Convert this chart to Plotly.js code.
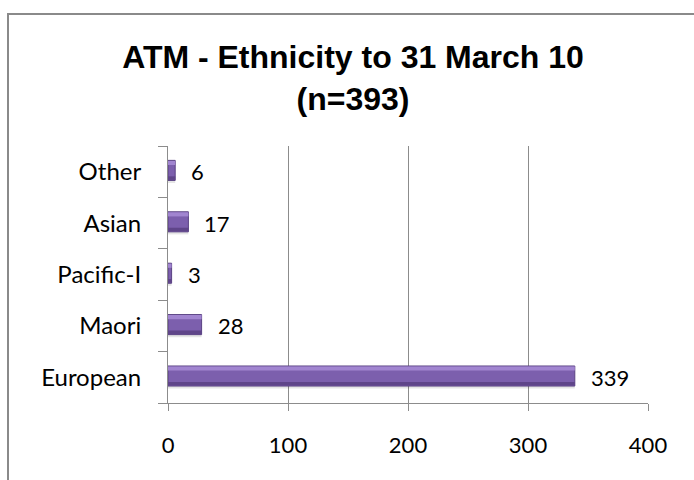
<!DOCTYPE html>
<html>
<head>
<meta charset="utf-8">
<script src="https://cdn.plot.ly/plotly-3.0.1.min.js"></script>
<style>html,body{margin:0;padding:0;background:#fff;}#chart{width:694px;height:480px;}</style>
</head>
<body>
<div id="chart"></div>
<script>
const categories = ["European", "Maori", "Pacific-I", "Asian", "Other"];
const counts = [339, 28, 3, 17, 6];
const xTicks = [0, 100, 200, 300, 400];
const titleText = "ATM - Ethnicity to 31 March 10<br>(n=393)";

const base = {
  type: "bar", orientation: "h", x: counts, y: categories,
  hoverinfo: "skip", showlegend: false
};
const traces = [
  Object.assign({}, base, {offset: -0.22, width: 0.05, marker: {color: "rgba(0,0,0,0.10)"}}),
  Object.assign({}, base, {offset: -0.17, width: 0.39, marker: {color: "#7C5FAD", line: {color: "#5A4283", width: 1}}}),
  Object.assign({}, base, {offset: 0.13, width: 0.08, marker: {color: "#A185D0"}}),
  Object.assign({}, base, {offset: -0.16, width: 0.07, marker: {color: "#5F4589"}})
];

const annotations = categories.map((c, i) => ({
  x: counts[i], y: c, xref: "x", yref: "y", text: String(counts[i]),
  showarrow: false, xanchor: "left", yanchor: "middle", xshift: 14, yshift: 0,
  font: {family: "Lato, sans-serif", size: 22, color: "#000"}
}));

const layout = {
  width: 694, height: 480,
  margin: {l: 168, r: 46, t: 146, b: 77, pad: 0},
  paper_bgcolor: "#fff", plot_bgcolor: "#fff",
  barmode: "overlay",
  font: {family: "Lato, sans-serif", size: 22, color: "#000"},
  title: {
    text: titleText, x: 353 / 694, xanchor: "center", xref: "container",
    y: 1 - 68 / 480, yanchor: "middle", yref: "container",
    font: {family: "Liberation Sans, Arial, sans-serif", size: 32, color: "#000", weight: "bold"}
  },
  xaxis: {
    range: [0, 400], tickvals: xTicks, ticktext: xTicks.map(String),
    showgrid: true, gridcolor: "#8c8c8c", gridwidth: 1,
    showline: true, linecolor: "#8c8c8c", linewidth: 1,
    ticks: "outside", ticklen: 7, tickcolor: "#8c8c8c",
    tickfont: {family: "Lato, sans-serif", size: 22, color: "#000"},
    zeroline: false, ticklabelstandoff: 16, fixedrange: true
  },
  yaxis: {
    type: "category", categoryorder: "array", categoryarray: categories,
    range: [-0.5, 4.5], showgrid: false,
    showline: true, linecolor: "#8c8c8c", linewidth: 1,
    ticks: "outside", ticklen: 9, tickcolor: "#8c8c8c", tickson: "boundaries",
    tickfont: {family: "Lato, sans-serif", size: 24, color: "#000"},
    ticklabelstandoff: 21, zeroline: false, fixedrange: true
  },
  annotations: annotations,
  shapes: [{
    type: "rect", xref: "paper", yref: "paper",
    x0: (8 - 168) / 480, x1: 1.2, y0: -0.6, y1: (403 - 14) / 257,
    line: {color: "#8a8a8a", width: 2}, fillcolor: "rgba(0,0,0,0)", layer: "below"
  }]
};

Plotly.newPlot("chart", traces, layout, {displayModeBar: false, staticPlot: true});
</script>
</body>
</html>
